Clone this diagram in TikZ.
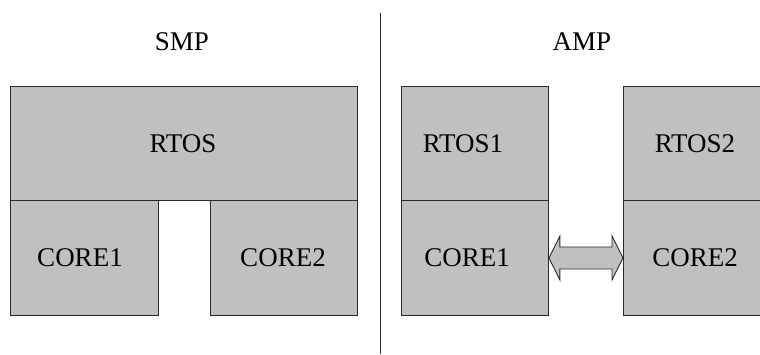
\documentclass[tikz,border=0pt]{standalone}
\usepackage{fontspec}
\setmainfont{Liberation Serif}
\usetikzlibrary{calc}
\definecolor{boxgray}{HTML}{C0C0C0}
\definecolor{edgegray}{HTML}{2A2A2A}
\begin{document}
\begin{tikzpicture}[x=1pt,y=1pt,
  blk/.style={draw=edgegray,fill=boxgray,line width=0.9pt,inner sep=0pt},
  lbl/.style={font=\fontsize{27}{30}\selectfont,inner sep=0pt,anchor=base}]
\useasboundingbox (0,0) rectangle (760,354);
\clip (0,0) rectangle (760,354);
% SMP
\node[blk,minimum width=347,minimum height=114,anchor=north west] (rtos) at (10,268) {};
\node[blk,minimum width=148,minimum height=115,anchor=north west] (c1l) at (10,154) {};
\node[blk,minimum width=147,minimum height=115,anchor=north west] (c2l) at (210,154) {};
% AMP
\node[blk,minimum width=147,minimum height=114,anchor=north west] (rtos1) at (401,268) {};
\node[blk,minimum width=147,minimum height=115,anchor=north west] (c1r) at (401,154) {};
\node[blk,minimum width=160,minimum height=114,anchor=north west] (rtos2) at (623,268) {};
\node[blk,minimum width=160,minimum height=115,anchor=north west] (c2r) at (623,154) {};
% divider
\coordinate (dtop) at (380,341);
\coordinate (dbot) at (380,354-354);
\draw[line width=0.9pt,edgegray] (dtop) -- (dbot);
% labels
\node[lbl] (smp) at (182,303) {SMP};
\node[lbl] (amp) at (582,303) {AMP};
\node[lbl] (trtos) at (183,202) {RTOS};
\node[lbl] (tc1l) at (80,88) {CORE1};
\node[lbl] (tc2l) at (283,88) {CORE2};
\node[lbl] (trtos1) at (463,202) {RTOS1};
\node[lbl] (tc1r) at (467,88) {CORE1};
\node[lbl] (trtos2) at (695,202) {RTOS2};
\node[lbl] (tc2r) at (695,88) {CORE2};
% double arrow
\draw[blk] (c1r.east)
  -- ++(11,22) -- ++(0,-11) -- ($(c2r.west)+(-11,11)$) -- ++(0,11)
  -- (c2r.west) -- ++(-11,-22) -- ++(0,11) -- ($(c1r.east)+(11,-11)$) -- ++(0,-11) -- cycle;
\end{tikzpicture}
\end{document}
